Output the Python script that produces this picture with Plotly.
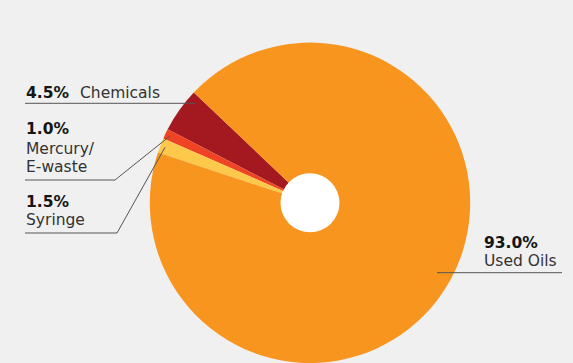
import math
import plotly.graph_objects as go

# Waste composition
categories = ["Chemicals", "Mercury/E-waste", "Syringe", "Used Oils"]
shares = [4.5, 1.0, 1.5, 93.0]
pct_labels = ["4.5%", "1.0%", "1.5%", "93.0%"]
name_lines = [["Chemicals"], ["Mercury/", "E-waste"], ["Syringe"], ["Used Oils"]]
colors = ["#A3191F", "#EE4423", "#FEC84B", "#F7951F"]

W, H = 573, 363
BG = "#F0F0F0"
FONT = "DejaVu Sans"
FS = 15.5
TXT = "#333333"
NUM = "#151515"
LINE = "#555555"

# pie placement: centre (pixels) and radius
cx, cy, radius = 310.0, 202.8, 160.0
hole_r = 29.5
start_angle = 136.5  # math angle of the first slice's leading edge
total = sum(shares)

dom_x = [(cx - radius - 1) / W, (cx + radius + 1) / W]
dom_y = [0.0, 2 * (H - cy) / H]
# plotly puts the first slice clockwise of `rotation` when going counterclockwise
rotation = -(start_angle - 90) - 360 * shares[0] / total


def px(x):
    return x / W


def py(y):
    return 1 - y / H


def slice_point(i, frac):
    """Pixel point at the angular middle of slice i, at frac of the radius."""
    before = sum(shares[:i])
    mid = start_angle + 360 * (before + shares[i] / 2) / total
    a = math.radians(mid)
    return cx + frac * radius * math.cos(a), cy - frac * radius * math.sin(a)


fig = go.Figure(
    go.Pie(
        labels=categories,
        values=shares,
        sort=False,
        direction="counterclockwise",
        rotation=rotation,
        marker=dict(colors=colors, line=dict(width=0)),
        textinfo="none",
        hoverinfo="label+percent",
        domain=dict(x=dom_x, y=dom_y),
        showlegend=False,
    )
)

shapes = []
annotations = []


def seg(x0, y0, x1, y1):
    shapes.append(dict(type="line", xref="paper", yref="paper",
                       x0=px(x0), y0=py(y0), x1=px(x1), y1=py(y1),
                       line=dict(color=LINE, width=1)))


def text(x, baseline, s, bold=False, size=FS):
    annotations.append(dict(
        xref="paper", yref="paper", x=px(x), y=py(baseline - 0.346 * size),
        xanchor="left", yanchor="middle", showarrow=False,
        text=f"<b>{s}</b>" if bold else s,
        font=dict(family=FONT, size=size, color=NUM if bold else TXT),
        borderpad=0,
    ))


# white centre disc
shapes.append(dict(type="circle", xref="paper", yref="paper",
                   x0=px(cx - hole_r), x1=px(cx + hole_r),
                   y0=py(cy + hole_r), y1=py(cy - hole_r),
                   fillcolor="white", line=dict(width=0), layer="above"))

# Chemicals
text(25, 98.5, pct_labels[0], bold=True)
text(79, 98.5, name_lines[0][0])
seg(25, 103.3, 195, 103.3)

# Mercury / E-waste
text(25, 134.7, pct_labels[1], bold=True)
text(25, 154, name_lines[1][0])
text(25, 172.5, name_lines[1][1])
mx, my = slice_point(1, 0.97)
seg(25, 180, 115, 180)
seg(115, 180, mx, my)

# Syringe
text(25, 207, pct_labels[2], bold=True)
text(25, 225.5, name_lines[2][0])
sx, sy = slice_point(2, 0.97)
seg(25, 233, 117, 233)
seg(117, 233, sx, sy)

# Used Oils
text(482.5, 248.3, pct_labels[3], bold=True)
text(482.5, 266.5, name_lines[3][0])
seg(437, 272.7, 562, 272.7)

fig.update_layout(
    width=W, height=H,
    margin=dict(l=0, r=0, t=0, b=0),
    paper_bgcolor=BG, plot_bgcolor=BG,
    shapes=shapes, annotations=annotations,
)

fig.write_html("out.html")
